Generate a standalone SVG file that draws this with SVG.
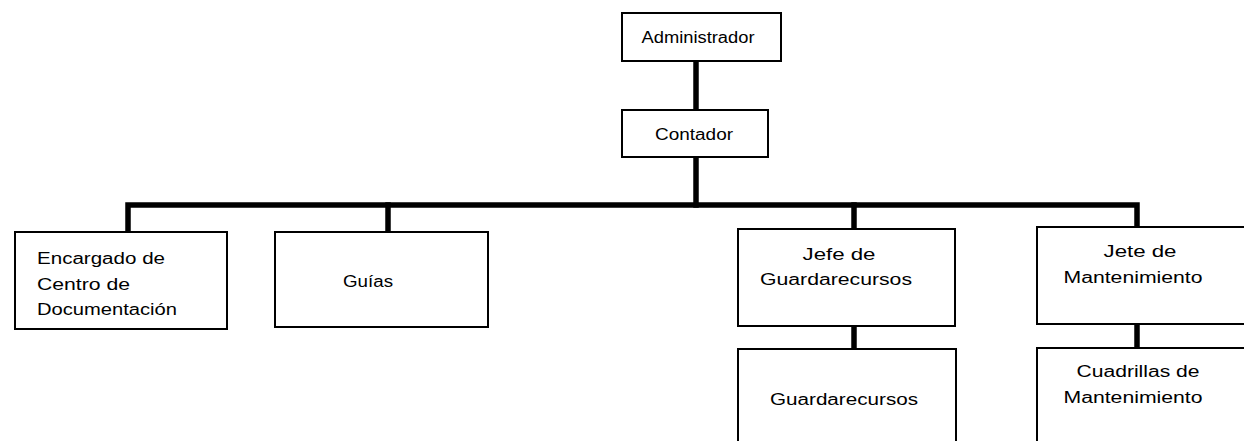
<svg xmlns="http://www.w3.org/2000/svg" width="1244" height="441" viewBox="0 0 1244 441">
<style>
.box{fill:#fff;stroke:#000;stroke-width:2}
.conn{stroke:#000;stroke-width:5.5;fill:none;stroke-linecap:square}
text{font-family:"Liberation Sans","DejaVu Sans",sans-serif;font-size:16px;fill:#000}
.c{text-anchor:middle}
</style>
<rect width="1244" height="441" fill="#fff"/>
<g id="connectors">
<line class="conn" x1="696" y1="61" x2="696" y2="110"/>
<line class="conn" x1="696" y1="157" x2="696" y2="205"/>
<polyline class="conn" points="128,232 128,205 1137,205 1137,227"/>
<line class="conn" x1="388" y1="205" x2="388" y2="232"/>
<line class="conn" x1="854" y1="205" x2="854" y2="229"/>
<line class="conn" x1="854" y1="326" x2="854" y2="349"/>
<line class="conn" x1="1137" y1="324" x2="1137" y2="348"/>
</g>
<g id="administrador">
<rect class="box" x="622" y="13" width="159" height="48"/>
<text class="c" x="698" y="43" textLength="113" lengthAdjust="spacingAndGlyphs">Administrador</text>
</g>
<g id="contador">
<rect class="box" x="622" y="110" width="146" height="47"/>
<text class="c" x="694" y="140" textLength="78" lengthAdjust="spacingAndGlyphs">Contador</text>
</g>
<g id="encargado">
<rect class="box" x="15" y="232" width="212" height="97"/>
<text x="37" y="264" textLength="128" lengthAdjust="spacingAndGlyphs">Encargado de</text>
<text x="37" y="290" textLength="93" lengthAdjust="spacingAndGlyphs">Centro de</text>
<text x="37" y="315" textLength="140" lengthAdjust="spacingAndGlyphs">Documentación</text>
</g>
<g id="guias">
<rect class="box" x="275" y="232" width="213" height="95"/>
<text class="c" x="368" y="287" textLength="50" lengthAdjust="spacingAndGlyphs">Guías</text>
</g>
<g id="jefe-guardarecursos">
<rect class="box" x="738" y="229" width="217" height="97"/>
<text class="c" x="839" y="260" textLength="73" lengthAdjust="spacingAndGlyphs">Jefe de</text>
<text class="c" x="836" y="285" textLength="152" lengthAdjust="spacingAndGlyphs">Guardarecursos</text>
</g>
<g id="guardarecursos">
<rect class="box" x="738" y="349" width="218" height="100"/>
<text class="c" x="844" y="405" textLength="148" lengthAdjust="spacingAndGlyphs">Guardarecursos</text>
</g>
<g id="jefe-mantenimiento">
<rect class="box" x="1037" y="227" width="220" height="97"/>
<text class="c" x="1140" y="257" textLength="73" lengthAdjust="spacingAndGlyphs">Jete de</text>
<text class="c" x="1133" y="283" textLength="139" lengthAdjust="spacingAndGlyphs">Mantenimiento</text>
</g>
<g id="cuadrillas">
<rect class="box" x="1037" y="348" width="220" height="100"/>
<text class="c" x="1138" y="377" textLength="123" lengthAdjust="spacingAndGlyphs">Cuadrillas de</text>
<text class="c" x="1133" y="403" textLength="139" lengthAdjust="spacingAndGlyphs">Mantenimiento</text>
</g>
</svg>
